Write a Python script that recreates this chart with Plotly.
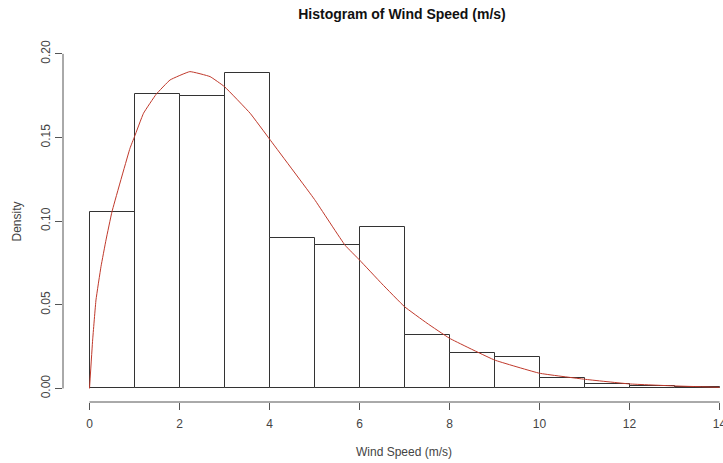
import plotly.graph_objects as go

# Histogram bins (left edges) and densities
bin_left = [0, 1, 2, 3, 4, 5, 6, 7, 8, 9, 10, 11, 12, 13]
density = [0.1057, 0.1759, 0.1748, 0.1884, 0.0898, 0.0856, 0.0967,
           0.0318, 0.0210, 0.0186, 0.0065, 0.0025, 0.0015, 0.0010]

# Fitted density curve points
curve_x = [0, 0.07, 0.144, 0.255, 0.367, 0.5, 0.9, 1.0, 1.2, 1.48, 1.79, 2.23,
           2.68, 3.0, 3.57, 4.0, 5.0, 5.68, 6.0, 6.5, 7.0, 7.5, 8, 9, 10, 11,
           12, 13, 14]
curve_y = [0, 0.029, 0.0529, 0.0728, 0.0888, 0.1057, 0.1436, 0.1505, 0.1645,
           0.1758, 0.1844, 0.1894, 0.1864, 0.1804, 0.1645, 0.1491, 0.113,
           0.0856, 0.0768, 0.0625, 0.0489, 0.039, 0.030, 0.017, 0.0091,
           0.0055, 0.0027, 0.0015, 0.0007]

x_ticks = [0, 2, 4, 6, 8, 10, 12, 14]
y_ticks = [0.00, 0.05, 0.10, 0.15, 0.20]

FONT = "Liberation Sans, Arial, Helvetica, sans-serif"
AX = "#555555"
TXT = "#444444"

fig = go.Figure()
fig.add_trace(go.Bar(
    x=bin_left, y=density, width=1, offset=0,
    marker=dict(color="white", line=dict(color="#333333", width=1)),
    showlegend=False, hoverinfo="x+y",
))
fig.add_trace(go.Scatter(
    x=curve_x, y=curve_y, mode="lines",
    line=dict(color="#c0392b", width=1, shape="spline", smoothing=0.3),
    showlegend=False,
))

fig.update_layout(
    width=723, height=463,
    margin=dict(l=63, r=0, t=40, b=61, autoexpand=False),
    paper_bgcolor="white", plot_bgcolor="white",
    font=dict(family=FONT, size=12, color=TXT),
    bargap=0,
    title=dict(text="<b>Histogram of Wind Speed (m/s)</b>",
               font=dict(family=FONT, size=14, color="#111111"),
               x=0.5136, xref="paper", xanchor="center",
               y=1 - 14 / 463, yref="container", yanchor="middle",
               automargin=False),
    xaxis=dict(range=[-0.5889, 14.0778], tickvals=x_ticks,
               ticktext=[str(v) for v in x_ticks], automargin=False,
               ticklabeloverflow="allow", ticklabelstandoff=4,
               showgrid=False, zeroline=False, showline=False,
               ticks="outside", ticklen=7, tickcolor=AX, tickwidth=1,
               tickfont=dict(family=FONT, size=12, color=TXT)),
    yaxis=dict(range=[-0.0081, 0.2083], tickvals=y_ticks,
               ticktext=[f"{v:.2f}" for v in y_ticks], tickangle=-90,
               automargin=False,
               showgrid=False, zeroline=False, showline=False,
               ticks="outside", ticklen=7, tickcolor=AX, tickwidth=1,
               tickfont=dict(family=FONT, size=12, color=TXT)),
    shapes=[
        dict(type="line", xref="x", yref="paper", x0=x_ticks[0], x1=x_ticks[-1],
             y0=0, y1=0, line=dict(color=AX, width=1)),
        dict(type="line", xref="paper", yref="y", x0=0, x1=0,
             y0=y_ticks[0], y1=y_ticks[-1], line=dict(color=AX, width=1)),
    ],
    annotations=[
        dict(text="Wind Speed (m/s)", xref="paper", yref="paper",
             x=0.517, y=-0.1375, showarrow=False, xanchor="center",
             yanchor="middle", font=dict(size=12, color=TXT)),
        dict(text="Density", xref="paper", yref="paper", x=-0.0712, y=0.4986,
             showarrow=False, textangle=-90, xanchor="center",
             yanchor="middle", font=dict(size=12, color=TXT)),
    ],
)

fig.write_html(
    "out.html",
    config={"displayModeBar": False},
    post_script="document.body.style.margin='0';document.body.style.overflow='hidden';",
)
